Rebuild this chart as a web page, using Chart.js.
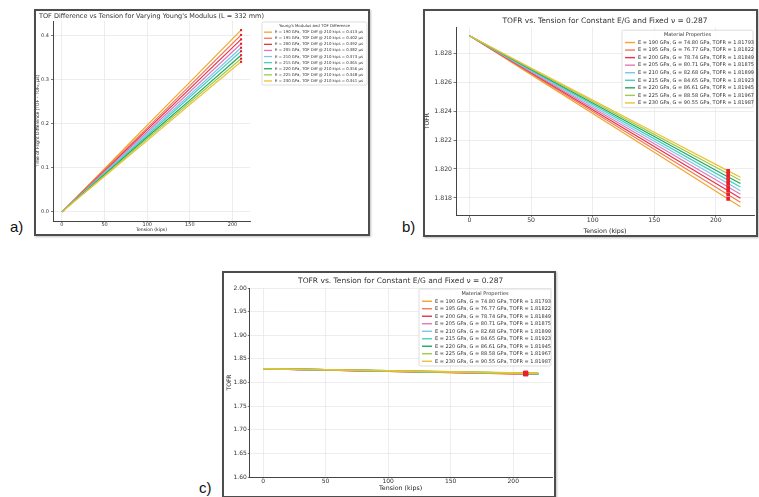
<!DOCTYPE html>
<html>
<head>
<meta charset="utf-8">
<script src="https://cdn.jsdelivr.net/npm/chart.js@4.4.1/dist/chart.umd.min.js"></script>
<style>
  body { margin: 0; background: #fff; }
  #page { position: relative; width: 759px; height: 497px; overflow: hidden; background: #fff; }
  canvas { position: absolute; }
  .frame { position: absolute; box-sizing: border-box; border: 2px solid #4d4d4d;
           box-shadow: 1px 1px 2px rgba(0,0,0,0.25); pointer-events: none; z-index: 2; }
  .tag { position: absolute; font-family: "Liberation Sans", Arial, sans-serif; font-size: 15px; color: #111; }
</style>
</head>
<body>
<div id="page">
  <canvas id="chartA" width="340" height="227" style="left:30px; top:9px;"></canvas>
  <canvas id="chartB" width="335" height="228" style="left:423px; top:9px;"></canvas>
  <canvas id="chartC" width="334" height="226" style="left:222px; top:271px;"></canvas>
  <div class="frame" style="left:34px; top:9px; width:336px; height:227px;"></div>
  <div class="frame" style="left:423px; top:9px; width:335px; height:228px;"></div>
  <div class="frame" style="left:222px; top:271px; width:334px; height:227px;"></div>
  <div class="tag" style="left:10px; top:218px;">a)</div>
  <div class="tag" style="left:402px; top:218px;">b)</div>
  <div class="tag" style="left:199px; top:479px;">c)</div>
</div>
<script>
// values
const moduli = [190, 195, 200, 205, 210, 215, 220, 225, 230];          // E, GPa
const shearMod = ['74.80', '76.77', '78.74', '80.71', '82.68', '84.65', '86.61', '88.58', '90.55']; // G, GPa
const tofDiffAt210 = ['0.413', '0.402', '0.392', '0.382', '0.373', '0.365', '0.356', '0.348', '0.341'];
const tofrAt210 = ['1.81793', '1.81822', '1.81849', '1.81875', '1.81899', '1.81923', '1.81945', '1.81967', '1.81987'];
const markerTension = 210;

// panel a: TOF difference (us) vs tension
const tensionA = [0, 50, 100, 150, 210];
const tofDiffE190 = [0, 0.098, 0.197, 0.295, 0.413];
const tofDiffE195 = [0, 0.096, 0.191, 0.287, 0.402];
const tofDiffE200 = [0, 0.093, 0.187, 0.280, 0.392];
const tofDiffE205 = [0, 0.091, 0.182, 0.273, 0.382];
const tofDiffE210 = [0, 0.089, 0.178, 0.266, 0.373];
const tofDiffE215 = [0, 0.087, 0.174, 0.261, 0.365];
const tofDiffE220 = [0, 0.085, 0.170, 0.254, 0.356];
const tofDiffE225 = [0, 0.083, 0.166, 0.249, 0.348];
const tofDiffE230 = [0, 0.081, 0.162, 0.244, 0.341];

// panels b and c: TOFR vs tension
const tensionB = [0, 50, 100, 150, 210, 220];
const tofrE190 = [1.8292, 1.82652, 1.82383, 1.82115, 1.81793, 1.81739];
const tofrE195 = [1.8292, 1.82659, 1.82397, 1.82136, 1.81822, 1.81770];
const tofrE200 = [1.8292, 1.82665, 1.82410, 1.82155, 1.81849, 1.81798];
const tofrE205 = [1.8292, 1.82671, 1.82422, 1.82174, 1.81875, 1.81825];
const tofrE210 = [1.8292, 1.82677, 1.82434, 1.82191, 1.81899, 1.81850];
const tofrE215 = [1.8292, 1.82683, 1.82445, 1.82208, 1.81923, 1.81876];
const tofrE220 = [1.8292, 1.82688, 1.82456, 1.82224, 1.81945, 1.81899];
const tofrE225 = [1.8292, 1.82693, 1.82466, 1.82239, 1.81967, 1.81922];
const tofrE230 = [1.8292, 1.82698, 1.82476, 1.82254, 1.81987, 1.81943];

// tick labels
const tensionTicks = [0, 50, 100, 150, 200];
const tofDiffTicks = [0, 0.1, 0.2, 0.3, 0.4];
const tofrTicksB = [1.818, 1.820, 1.822, 1.824, 1.826, 1.828];
const tofrTicksC = [1.60, 1.65, 1.70, 1.75, 1.80, 1.85, 1.90, 1.95, 2.00];

const tofDiffSeries = [tofDiffE190, tofDiffE195, tofDiffE200, tofDiffE205, tofDiffE210,
                       tofDiffE215, tofDiffE220, tofDiffE225, tofDiffE230];
const tofrSeries = [tofrE190, tofrE195, tofrE200, tofrE205, tofrE210,
                    tofrE215, tofrE220, tofrE225, tofrE230];

const colors = ['#f2a52a', '#ef7a55', '#e6324b', '#e676b6', '#7cc6ec',
                '#4ccfbd', '#1fa563', '#a2ca4c', '#ecc233'];
const FONT = '"DejaVu Sans", sans-serif';

// title centred over the plot area, like matplotlib
const panelTitle = {
    id: 'panelTitle',
    afterDraw(chart, args, o) {
        const ctx = chart.ctx;
        const area = chart.chartArea;
        ctx.save();
        ctx.font = `${o.size}px ${FONT}`;
        ctx.fillStyle = '#333';
        ctx.textAlign = 'center';
        ctx.textBaseline = 'middle';
        ctx.fillText(o.text, (area.left + area.right) / 2, o.y);
        ctx.restore();
    }
};

// framed legend box with a title row
const boxLegend = {
    id: 'boxLegend',
    afterDraw(chart, args, o) {
        const ctx = chart.ctx;
        const items = chart.data.datasets.filter(d => !d.isMarker);
        const h = o.padY * 2 + o.rowH * (items.length + 1);
        ctx.save();
        ctx.fillStyle = 'rgba(255,255,255,0.85)';
        ctx.strokeStyle = '#d4d4d4';
        ctx.lineWidth = 0.8;
        ctx.beginPath();
        ctx.roundRect(o.x, o.y, o.w, h, 1.5);
        ctx.fill();
        ctx.stroke();
        ctx.font = `${o.size}px ${FONT}`;
        ctx.fillStyle = '#333';
        ctx.textBaseline = 'middle';
        ctx.textAlign = 'center';
        ctx.fillText(o.title, o.x + o.w / 2, o.y + o.padY + o.rowH / 2);
        ctx.textAlign = 'left';
        items.forEach((d, i) => {
            const cy = o.y + o.padY + o.rowH * (i + 1.5);
            ctx.strokeStyle = d.borderColor;
            ctx.lineWidth = o.lineW;
            ctx.beginPath();
            ctx.moveTo(o.x + o.padX, cy);
            ctx.lineTo(o.x + o.padX + o.sample, cy);
            ctx.stroke();
            ctx.fillStyle = '#333';
            ctx.fillText(d.label, o.x + o.padX + o.sample + o.gap, cy);
        });
        ctx.restore();
    }
};

function lineSets(xs, series, labels, width) {
    return series.map((ys, i) => ({
        label: labels[i],
        data: xs.map((x, k) => ({ x, y: ys[k] })),
        borderColor: colors[i],
        backgroundColor: colors[i],
        borderWidth: width,
        pointRadius: 0,
        fill: false,
        order: series.length - i
    }));
}

function markerSet(values, radius) {
    return {
        type: 'scatter',
        isMarker: true,
        data: values.map(v => ({ x: markerTension, y: +v })),
        pointStyle: 'rect',
        pointRadius: radius,
        backgroundColor: '#e8202c',
        borderWidth: 0,
        order: -1
    };
}

function axis(s) {
    return {
        type: 'linear',
        min: s.min,
        max: s.max,
        afterBuildTicks: sc => { sc.ticks = s.ticks.map(v => ({ value: v })); },
        afterFit: sc => { if (s.width) sc.width = s.width; if (s.height) sc.height = s.height; },
        grid: { color: '#e9e9ec', lineWidth: 0.8, tickLength: s.tl, tickColor: '#555', tickWidth: 0.8 },
        border: { color: '#444', width: 1 },
        ticks: {
            font: { family: FONT, size: s.tickSize },
            color: '#333',
            padding: s.pad,
            maxRotation: 0,
            autoSkip: false,
            callback: v => s.digits === undefined ? String(v) : v.toFixed(s.digits)
        },
        title: {
            display: true,
            text: s.title,
            font: { family: FONT, size: s.titleSize },
            color: '#222',
            padding: s.titlePad
        }
    };
}

function baseOptions(padding) {
    return {
        responsive: false,
        animation: false,
        devicePixelRatio: 1,
        layout: { padding },
        plugins: { legend: { display: false }, tooltip: { enabled: false }, title: { display: false } },
        elements: { line: { tension: 0 } }
    };
}

const labelsA = moduli.map((e, i) => `E = ${e} GPa, TOF Diff @ 210 kips = ${tofDiffAt210[i]} µs`);
const labelsB = moduli.map((e, i) => `E = ${e} GPa, G = ${shearMod[i]} GPa, TOFR = ${tofrAt210[i]}`);

// a) TOF difference
const optA = baseOptions({ top: 12, left: 0, right: 120, bottom: 0 });
optA.scales = {
    x: axis({ min: -10.5, max: 220.5, ticks: tensionTicks, height: 15, tl: 1, pad: 0, tickSize: 5,
              title: 'Tension (kips)', titleSize: 4.5, titlePad: { top: 0, bottom: 3.3 } }),
    y: axis({ min: -0.0207, max: 0.4337, ticks: tofDiffTicks, width: 23, tl: 2, pad: 2, tickSize: 5, digits: 1,
              title: 'Time of Flight Difference (TOF - TOF\u2080, µs)', titleSize: 4.5, titlePad: { top: 5.3, bottom: 0 } })
};
optA.plugins.panelTitle = { text: "TOF Difference vs Tension for Varying Young's Modulus (L = 332 mm)", size: 6.5, y: 7 };
optA.plugins.boxLegend = { x: 232, y: 13, w: 105, padX: 2, padY: 1, rowH: 6.1, sample: 8, gap: 3,
                           size: 3.9, lineW: 1.3, title: "Young's Modulus and TOF Difference" };
new Chart(document.getElementById('chartA'), {
    type: 'line',
    data: { datasets: [...lineSets(tensionA, tofDiffSeries, labelsA, 1.2), markerSet(tofDiffAt210, 1.5)] },
    options: optA,
    plugins: [panelTitle, boxLegend]
});

// b) TOFR, zoomed
const optB = baseOptions({ top: 18.3, left: 0, right: 4, bottom: 0 });
optB.scales = {
    x: axis({ min: -11, max: 231, ticks: tensionTicks, height: 22, tl: 2, pad: 0, tickSize: 6.2,
              title: 'Tension (kips)', titleSize: 6.3, titlePad: { top: 0, bottom: 2.2 } }),
    y: axis({ min: 1.81682, max: 1.82979, ticks: tofrTicksB, width: 33, tl: 2.5, pad: 1.5, tickSize: 6.2, digits: 3,
              title: 'TOFR', titleSize: 6, titlePad: { top: 0.4, bottom: 0 } })
};
optB.plugins.panelTitle = { text: 'TOFR vs. Tension for Constant E/G and Fixed \u03bd = 0.287', size: 7.5, y: 11.7 };
optB.plugins.boxLegend = { x: 199, y: 21.2, w: 131, padX: 3, padY: 1, rowH: 7.55, sample: 10, gap: 3,
                           size: 5, lineW: 1.4, title: 'Material Properties' };
new Chart(document.getElementById('chartB'), {
    type: 'line',
    data: { datasets: [...lineSets(tensionB, tofrSeries, labelsB, 1.2), markerSet(tofrAt210, 2.6)] },
    options: optB,
    plugins: [panelTitle, boxLegend]
});

// c) TOFR, full range 1.60 - 2.00
const optC = baseOptions({ top: 17, left: 0, right: 3, bottom: 0 });
optC.scales = {
    x: axis({ min: -11, max: 231, ticks: tensionTicks, height: 20, tl: 1, pad: 0, tickSize: 6,
              title: 'Tension (kips)', titleSize: 6.3, titlePad: { top: 0, bottom: 5.2 } }),
    y: axis({ min: 1.60, max: 2.00, ticks: tofrTicksC, width: 27.3, tl: 1.5, pad: 1, tickSize: 6, digits: 2,
              title: 'TOFR', titleSize: 6, titlePad: { top: 3.4, bottom: 0 } })
};
optC.plugins.panelTitle = { text: 'TOFR vs. Tension for Constant E/G and Fixed \u03bd = 0.287', size: 7.5, y: 9.7 };
optC.plugins.boxLegend = { x: 197, y: 18, w: 132, padX: 3, padY: 1, rowH: 7.5, sample: 10, gap: 3,
                           size: 5, lineW: 1.4, title: 'Material Properties' };
new Chart(document.getElementById('chartC'), {
    type: 'line',
    data: { datasets: [...lineSets(tensionB, tofrSeries, labelsB, 1.6), markerSet(tofrAt210, 3.3)] },
    options: optC,
    plugins: [panelTitle, boxLegend]
});
</script>
</body>
</html>
